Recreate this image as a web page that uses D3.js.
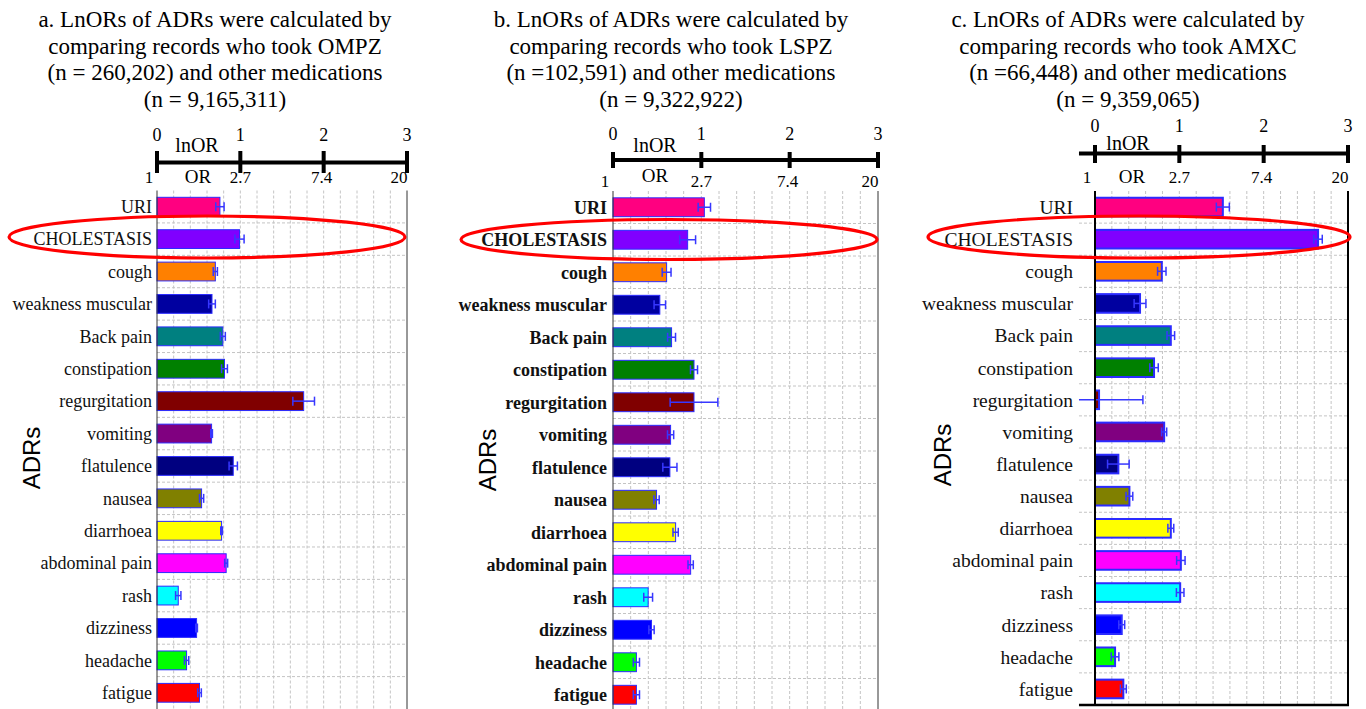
<!DOCTYPE html>
<html>
<head>
<meta charset="utf-8">
<script src="https://cdn.jsdelivr.net/npm/d3@7"></script>
<style>
  html, body { margin: 0; padding: 0; background: #fff; }
  svg { display: block; }
</style>
</head>
<body>
<svg id="chart" width="1366" height="709"></svg>
<script>
// ---------------- DATA ----------------
const categories = ["URI", "CHOLESTASIS", "cough", "weakness muscular", "Back pain", "constipation",
  "regurgitation", "vomiting", "flatulence", "nausea", "diarrhoea", "abdominal pain",
  "rash", "dizziness", "headache", "fatigue"];
const barColors = ["#ff0080", "#8000ff", "#ff8000", "#0000a0", "#008080", "#008000",
  "#800000", "#800080", "#000080", "#808000", "#ffff00", "#ff00ff",
  "#00ffff", "#0000ff", "#00ff00", "#ff0000"];

// panel a: OMPZ
const lnorA = [0.755, 0.99, 0.70, 0.66, 0.79, 0.81, 1.76, 0.655, 0.915, 0.535, 0.775, 0.83, 0.255, 0.475, 0.355, 0.51];
const errA  = [0.05, 0.055, 0.025, 0.04, 0.03, 0.035, 0.13, 0.01, 0.05, 0.025, 0.01, 0.018, 0.032, 0.01, 0.026, 0.022];
// panel b: LSPZ
const lnorB = [1.034, 0.845, 0.607, 0.53, 0.663, 0.917, 0.917, 0.652, 0.644, 0.493, 0.709, 0.879, 0.398, 0.436, 0.265, 0.265];
const errB  = [0.07, 0.09, 0.05, 0.065, 0.045, 0.04, 0.27, 0.035, 0.08, 0.03, 0.03, 0.03, 0.05, 0.03, 0.035, 0.035];
// panel c: AMXC
const lnorC = [1.516, 2.645, 0.792, 0.534, 0.899, 0.70, 0.048, 0.82, 0.277, 0.408, 0.899, 1.018, 1.01, 0.317, 0.238, 0.336];
const errC  = [0.077, 0.05, 0.05, 0.07, 0.045, 0.05, 0.52, 0.03, 0.128, 0.04, 0.035, 0.05, 0.045, 0.035, 0.045, 0.035];

const titleA = ["a. LnORs of ADRs were calculated by", "comparing records who took OMPZ",
  "(n = 260,202) and other medications", "(n = 9,165,311)"];
const titleB = ["b. LnORs of ADRs were calculated by", "comparing records who took LSPZ",
  "(n =102,591) and other medications", "(n = 9,322,922)"];
const titleC = ["c. LnORs of ADRs were calculated by", "comparing records who took AMXC",
  "(n =66,448) and other medications", "(n = 9,359,065)"];

const lnTicks = [0, 1, 2, 3];
const orTickLabels = ["1", "2.7", "7.4", "20"];
const gridStep = 0.2;
const yAxisTitle = "ADRs";

// ---------------- LAYOUT ----------------
const panels = [
  { values: lnorA, errs: errA, title: titleA,
    x0: 157, x1: 407, xMin: 0, yTop: 190.5, yBot: 709,
    titleX: 215, axisY: 162.5, tickTop: 151, tickBot: 173, numY: 141,
    lnorX: 197, lnorY: 152, orX: 198, orY: 183, orNumY: 183,
    labelEnd: 152, labelSize: 18, labelWeight: "normal", barStroke: 1,
    ell: { cx: 207, cy: 237, rx: 198, ry: 21 }, adrX: 40, adrY: 458,
    bottomLine: false, frameColor: "#333", frameW: 1.5 },
  { values: lnorB, errs: errB, title: titleB,
    x0: 613, x1: 878, xMin: 0, yTop: 191, yBot: 711,
    titleX: 671, axisY: 160, tickTop: 152, tickBot: 168, numY: 140,
    lnorX: 655, lnorY: 152, orX: 655, orY: 182, orNumY: 187,
    labelEnd: 607, labelSize: 18, labelWeight: "bold", barStroke: 1,
    ell: { cx: 669, cy: 239.5, rx: 208, ry: 20 }, adrX: 496, adrY: 460,
    bottomLine: false, frameColor: "#333", frameW: 1.5 },
  { values: lnorC, errs: errC, title: titleC,
    x0: 1095, x1: 1348, xMin: -0.19, yTop: 191, yBot: 705,
    titleX: 1128, axisY: 153.5, tickTop: 145, tickBot: 163, numY: 132,
    lnorX: 1128, lnorY: 150, orX: 1132, orY: 183, orNumY: 183,
    labelEnd: 1073, labelSize: 19.5, labelWeight: "normal", barStroke: 2,
    ell: { cx: 1139, cy: 237, rx: 211, ry: 21 }, adrX: 951, adrY: 455,
    bottomLine: true, frameColor: "#000", frameW: 2.5 }
];

const serif = "'Liberation Serif', 'Times New Roman', serif";
const sans = "'Liberation Sans', Arial, sans-serif";
const orOffsets = [-8, 0, -2, -8];

const svg = d3.select("#chart");

panels.forEach(p => {
  const g = svg.append("g");
  const x = d3.scaleLinear().domain([0, 3]).range([p.x0, p.x1]);
  const y = d3.scaleBand().domain(categories).range([p.yTop, p.yBot])
    .paddingInner(0.42).paddingOuter(0.21);
  const left = x(p.xMin);

  // title
  g.append("text")
    .attr("x", p.titleX).attr("y", 27)
    .attr("text-anchor", "middle")
    .style("font-family", serif).style("font-size", "23px").attr("fill", "#000")
    .selectAll("tspan").data(p.title).join("tspan")
    .attr("x", p.titleX).attr("dy", (d, i) => i === 0 ? 0 : 26.6)
    .text(d => d);

  // vertical grid
  const gridVals = d3.range(gridStep, 3 - 1e-6, gridStep);
  g.append("g").selectAll("line").data(gridVals).join("line")
    .attr("x1", d => x(d)).attr("x2", d => x(d))
    .attr("y1", p.yTop).attr("y2", p.yBot)
    .attr("stroke", "#c4c4c4").attr("stroke-width", 1).attr("stroke-dasharray", "3,2");

  // horizontal grid between rows
  const step = y.step();
  const hVals = d3.range(1, categories.length).map(i => p.yTop + i * step);
  g.append("g").selectAll("line").data(hVals).join("line")
    .attr("x1", left).attr("x2", p.x1)
    .attr("y1", d => d).attr("y2", d => d)
    .attr("stroke", "#c4c4c4").attr("stroke-width", 1).attr("stroke-dasharray", "3,2");

  // bars
  g.append("g").selectAll("rect").data(categories).join("rect")
    .attr("x", x(0))
    .attr("y", d => y(d))
    .attr("width", (d, i) => Math.max(0, x(p.values[i]) - x(0)))
    .attr("height", y.bandwidth())
    .attr("fill", (d, i) => barColors[i])
    .attr("stroke", "#2b2bff").attr("stroke-width", p.barStroke);

  // error bars
  const eg = g.append("g").attr("stroke", "#3737ff").attr("stroke-width", 1.5);
  categories.forEach((c, i) => {
    const cy = y(c) + y.bandwidth() / 2;
    const loV = p.values[i] - p.errs[i];
    const hiV = p.values[i] + p.errs[i];
    const lo = x(Math.max(p.xMin, loV));
    const hi = x(hiV);
    eg.append("line").attr("x1", lo).attr("x2", hi).attr("y1", cy).attr("y2", cy);
    if (loV >= p.xMin)
      eg.append("line").attr("x1", lo).attr("x2", lo).attr("y1", cy - 4.5).attr("y2", cy + 4.5);
    eg.append("line").attr("x1", hi).attr("x2", hi).attr("y1", cy - 4.5).attr("y2", cy + 4.5);
  });

  // frame: left axis, right border, optional bottom
  g.append("line").attr("x1", x(0)).attr("x2", x(0)).attr("y1", p.yTop).attr("y2", p.yBot)
    .attr("stroke", p.frameColor).attr("stroke-width", p.frameW - 0.5);
  g.append("line").attr("x1", p.x1).attr("x2", p.x1).attr("y1", p.yTop).attr("y2", p.yBot)
    .attr("stroke", p.frameColor).attr("stroke-width", p.frameW - 0.5);
  if (p.bottomLine)
    g.append("line").attr("x1", left).attr("x2", p.x1 + 1).attr("y1", p.yBot).attr("y2", p.yBot)
      .attr("stroke", "#000").attr("stroke-width", 2.5);

  // category labels
  g.append("g").selectAll("text").data(categories).join("text")
    .attr("x", p.labelEnd)
    .attr("y", d => y(d) + y.bandwidth() / 2)
    .attr("dy", "0.35em")
    .attr("text-anchor", "end")
    .style("font-family", serif).style("font-size", p.labelSize + "px")
    .style("font-weight", p.labelWeight)
    .attr("fill", "#111")
    .text(d => d);

  // y-axis title
  g.append("text")
    .attr("transform", `translate(${p.adrX},${p.adrY}) rotate(-90)`)
    .attr("text-anchor", "middle")
    .style("font-family", sans).style("font-size", "24px").attr("fill", "#000")
    .text(yAxisTitle);

  // top axis (lnOR above, OR below)
  g.append("line").attr("x1", left).attr("x2", p.x1).attr("y1", p.axisY).attr("y2", p.axisY)
    .attr("stroke", "#000").attr("stroke-width", 4);
  g.append("g").selectAll("line").data(lnTicks).join("line")
    .attr("x1", d => x(d)).attr("x2", d => x(d))
    .attr("y1", p.tickTop).attr("y2", p.tickBot)
    .attr("stroke", "#000").attr("stroke-width", 4);
  g.append("g").selectAll("text").data(lnTicks).join("text")
    .attr("x", d => x(d)).attr("y", p.numY)
    .attr("text-anchor", "middle")
    .style("font-family", serif).style("font-size", "18px").attr("fill", "#000")
    .text(d => d);
  g.append("g").selectAll("text").data(lnTicks).join("text")
    .attr("x", (d, i) => x(d) + orOffsets[i]).attr("y", p.orNumY)
    .attr("text-anchor", "middle")
    .style("font-family", serif).style("font-size", "17px").attr("fill", "#000")
    .text((d, i) => orTickLabels[i]);
  g.append("text").attr("x", p.lnorX).attr("y", p.lnorY).attr("text-anchor", "middle")
    .style("font-family", serif).style("font-size", "20px").attr("fill", "#000").text("lnOR");
  g.append("text").attr("x", p.orX).attr("y", p.orY).attr("text-anchor", "middle")
    .style("font-family", serif).style("font-size", "19px").attr("fill", "#000").text("OR");

  // red highlight ellipse around CHOLESTASIS
  g.append("ellipse")
    .attr("cx", p.ell.cx).attr("cy", p.ell.cy).attr("rx", p.ell.rx).attr("ry", p.ell.ry)
    .attr("fill", "none").attr("stroke", "#ff0000").attr("stroke-width", 3.2);
});
</script>
</body>
</html>
